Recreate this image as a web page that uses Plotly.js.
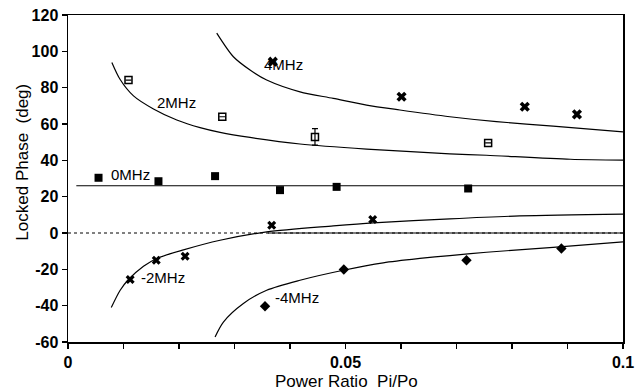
<!DOCTYPE html>
<html>
<head>
<meta charset="utf-8">
<script src="https://cdn.plot.ly/plotly-3.0.1.min.js"></script>
<style>html,body{margin:0;padding:0;background:#fff;}#chart{width:635px;height:391px;}</style>
</head>
<body>
<div id="chart"></div>
<script>
// ---- data ----
// theory curves
const curve4MHzX = [0.0268, 0.0298, 0.0328, 0.0358, 0.0418, 0.0478, 0.0538, 0.0598, 0.0688, 0.0772, 0.0874, 0.1];
const curve4MHzY = [110.0, 97.0, 89.7, 84.2, 77.7, 74.1, 70.4, 67.7, 64.0, 61.3, 58.8, 55.7];
const curve2MHzX = [0.0079, 0.0094, 0.0118, 0.0154, 0.0196, 0.0238, 0.0274, 0.0328, 0.0418, 0.0538, 0.0688, 0.0754, 0.0905, 0.1];
const curve2MHzY = [93.9, 84.5, 75.5, 68.3, 62.2, 58.0, 55.4, 52.6, 49.0, 46.2, 43.6, 42.8, 40.6, 40.1];
const curve0MHzX = [0.0015, 0.1];
const curve0MHzY = [26, 26];
const curveM2MHzX = [0.0078, 0.0094, 0.0109, 0.0136, 0.0160, 0.0208, 0.0274, 0.0358, 0.0478, 0.0550, 0.0688, 0.0814, 0.1];
const curveM2MHzY = [-41.0, -31.5, -25.6, -18.3, -14.0, -9.3, -4.0, 0.6, 3.9, 5.6, 7.8, 9.4, 10.4];
const curveM4MHzX = [0.0265, 0.0280, 0.0316, 0.0358, 0.0418, 0.0496, 0.0568, 0.0634, 0.0688, 0.0754, 0.0874, 0.1];
const curveM4MHzY = [-57.2, -49.0, -38.8, -31.5, -26.0, -20.5, -16.4, -14.0, -12.4, -10.6, -7.9, -4.9];
const zeroLineX = [0, 0.1];
const zeroLineY = [0, 0];
const zeroSolidX = [0.036, 0.1];
const zeroSolidY = [0, 0];

// measured points
const pts4MHzX = [0.0369, 0.0601, 0.0823, 0.0917];
const pts4MHzY = [94.3, 75.0, 69.5, 65.3];
const pts2MHzX = [0.0109, 0.0278, 0.0445, 0.0757];
const pts2MHzY = [84.2, 64.0, 52.9, 49.6];
const pts2MHzErr = [0, 0, 4.5, 0];
const pts0MHzX = [0.0055, 0.0163, 0.0265, 0.0382, 0.0484, 0.0721];
const pts0MHzY = [30.4, 28.5, 31.3, 23.6, 25.4, 24.5];
const ptsM2MHzX = [0.0112, 0.0159, 0.0211, 0.0367, 0.0549];
const ptsM2MHzY = [-25.6, -15.0, -12.8, 4.3, 7.4];
const ptsM4MHzX = [0.0355, 0.0497, 0.0718, 0.0889];
const ptsM4MHzY = [-40.3, -20.1, -15.0, -8.5];

// labels
const labelText = ['4MHz', '2MHz', '0MHz', '-2MHz', '-4MHz'];
const labelX = [0.0389, 0.0196, 0.0112, 0.0171, 0.0413];
const labelY = [93.0, 72.1, 32.4, -24.4, -35.4];

// ticks
const xTickVals = [0, 0.05, 0.1];
const xTickText = ['0', '0.05', '0.1'];
const yTickVals = [-60, -40, -20, 0, 20, 40, 60, 80, 100, 120];
const yTickText = ['-60', '-40', '-20', '0', '20', '40', '60', '80', '100', '120'];

const xTitle = 'Power Ratio  Pi/Po';
const yTitle = 'Locked Phase  (deg)';

// ---- figure ----
const lineStyle = {color: '#000', width: 1.2};
function curve(x, y, extra) {
  return Object.assign({x: x, y: y, type: 'scatter', mode: 'lines', line: lineStyle, hoverinfo: 'skip'}, extra || {});
}
function pts(x, y, sym, size, extra) {
  return Object.assign({x: x, y: y, type: 'scatter', mode: 'markers',
    marker: {symbol: sym, size: size, color: '#000', line: {color: '#000', width: 1.5}}}, extra || {});
}
const splineLine = {color: '#000', width: 1.2, shape: 'spline', smoothing: 0.8};

const traces = [
  curve(zeroLineX, zeroLineY, {line: {color: '#000', width: 1, dash: 'dot'}}),
  curve(zeroSolidX, zeroSolidY),
  curve(curve4MHzX, curve4MHzY, {line: splineLine}),
  curve(curve2MHzX, curve2MHzY, {line: splineLine}),
  curve(curve0MHzX, curve0MHzY),
  curve(curveM2MHzX, curveM2MHzY, {line: splineLine}),
  curve(curveM4MHzX, curveM4MHzY, {line: splineLine}),
  pts(pts4MHzX, pts4MHzY, 'x', 9, {marker: {symbol: 'x', size: 9, color: '#000', line: {width: 0}}}),
  pts(pts2MHzX, pts2MHzY, 'square-open', 7, {
    error_y: {type: 'data', array: pts2MHzErr, visible: true, color: '#000', thickness: 1.2, width: 3}}),
  pts(pts0MHzX, pts0MHzY, 'square', 8, {marker: {symbol: 'square', size: 8, color: '#000', line: {width: 0}}}),
  pts(ptsM2MHzX, ptsM2MHzY, 'x', 8, {marker: {symbol: 'x', size: 8, color: '#000', line: {width: 0}}}),
  pts(ptsM4MHzX, ptsM4MHzY, 'diamond', 8, {marker: {symbol: 'diamond', size: 8, color: '#000', line: {width: 0}}})
];

const annotations = labelText.map((t, i) => ({
  x: labelX[i], y: labelY[i], xref: 'x', yref: 'y', text: t, showarrow: false,
  font: {family: 'Liberation Sans, Arial, sans-serif', size: 15, color: '#000'},
  xanchor: 'center', yanchor: 'middle'
}));
annotations.push({
  x: 0.5, y: -0.122, xref: 'paper', yref: 'paper', text: xTitle, showarrow: false,
  font: {family: 'Liberation Sans, Arial, sans-serif', size: 17, color: '#000'},
  xanchor: 'center', yanchor: 'middle', xshift: 1
});
annotations.push({
  x: -0.082, y: 0.55, xref: 'paper', yref: 'paper', text: yTitle, showarrow: false, textangle: -90,
  font: {family: 'Liberation Sans, Arial, sans-serif', size: 17, color: '#000'},
  xanchor: 'center', yanchor: 'middle'
});

const tickFont = {family: 'Liberation Sans, Arial, sans-serif', size: 16, color: '#000', weight: 'bold'};

const layout = {
  width: 635, height: 391,
  margin: {l: 68, r: 12, t: 15, b: 49},
  paper_bgcolor: '#fff', plot_bgcolor: '#fff',
  showlegend: false,
  xaxis: {
    range: [0, 0.1], showgrid: false, zeroline: false,
    showline: true, linecolor: '#000', linewidth: 1.5, mirror: true,
    ticks: 'outside', ticklen: 5, tickcolor: '#000', tickwidth: 1.2,
    tickvals: xTickVals, ticktext: xTickText, tickfont: tickFont,
    minor: {dtick: 0.01, tick0: 0, ticks: 'outside', ticklen: 5, tickcolor: '#000', tickwidth: 1.2, showgrid: false}
  },
  yaxis: {
    range: [-60, 120], showgrid: false, zeroline: false,
    showline: true, linecolor: '#000', linewidth: 1.5, mirror: true,
    ticks: 'outside', ticklen: 5, tickcolor: '#000', tickwidth: 1.2,
    tickvals: yTickVals, ticktext: yTickText, tickfont: tickFont
  },
  annotations: annotations
};

Plotly.newPlot('chart', traces, layout, {staticPlot: true, displayModeBar: false});
</script>
</body>
</html>
